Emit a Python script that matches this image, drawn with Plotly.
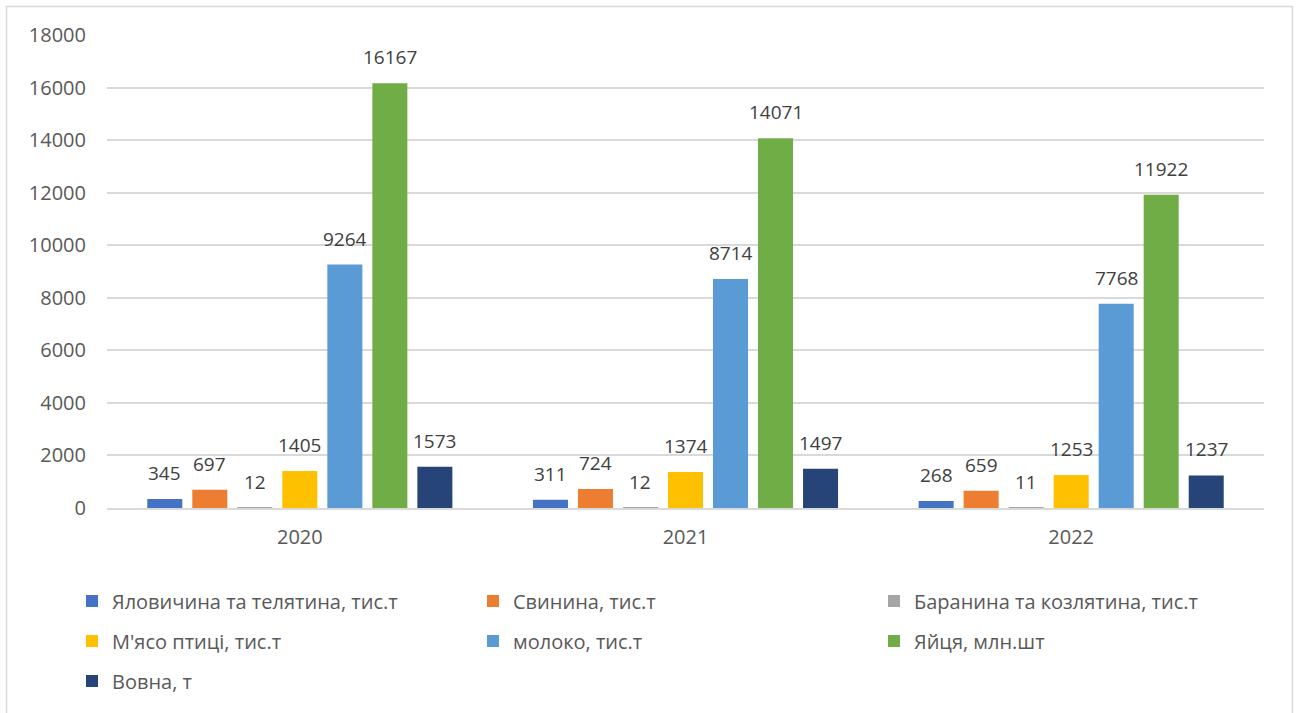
import plotly.graph_objects as go

# Livestock production by year
years = ["2020", "2021", "2022"]
series_names = [
    "Яловичина та телятина, тис.т",
    "Свинина, тис.т",
    "Баранина та козлятина, тис.т",
    "М'ясо птиці, тис.т",
    "молоко, тис.т",
    "Яйця, млн.шт",
    "Вовна, т",
]
beef = [345, 311, 268]
pork = [697, 724, 659]
lamb = [12, 12, 11]
poultry = [1405, 1374, 1253]
milk = [9264, 8714, 7768]
eggs = [16167, 14071, 11922]
wool = [1573, 1497, 1237]
y_ticks = [0, 2000, 4000, 6000, 8000, 10000, 12000, 14000, 16000, 18000]

values = [beef, pork, lamb, poultry, milk, eggs, wool]
colors = ["#4472C4", "#ED7D31", "#A5A5A5", "#FFC000", "#5B9BD5", "#70AD47", "#264478"]
legend_ids = ["legend", "legend", "legend", "legend2", "legend2", "legend2", "legend3"]

W, H = 1298, 713
ML, MR, MT, MB = 107, 34, 35, 205
BARGAP = 0.183
FONT = "Open Sans, sans-serif"

fig = go.Figure()
for name, vals, col, lg in zip(series_names, values, colors, legend_ids):
    fig.add_trace(go.Bar(
        name=name, x=years, y=vals,
        marker=dict(color=col, line=dict(width=0)),
        legend=lg,
    ))

# value labels above each bar, offset per series within the group
plot_w = W - ML - MR
slot = plot_w / len(years) * (1 - BARGAP) / len(series_names)
annotations = []
for i, vals in enumerate(values):
    for j, v in enumerate(vals):
        annotations.append(dict(
            x=j, y=v, xref="x", yref="y", text=str(v), showarrow=False,
            xshift=(i - (len(series_names) - 1) / 2) * slot, yshift=11,
            yanchor="bottom", xanchor="center",
            font=dict(family=FONT, size=19, color="#404040"),
        ))

plot_h = H - MT - MB
fig.add_shape(
    type="rect", xref="paper", yref="paper",
    x0=(6.5 - ML) / plot_w, x1=(W - 5.5 - ML) / plot_w,
    y0=(MT + plot_h - (H + 10)) / plot_h, y1=(MT + plot_h - 6.5) / plot_h,
    line=dict(color="#D9D9D9", width=1.5), fillcolor="rgba(0,0,0,0)", layer="below",
)

legend_common = dict(
    orientation="h", xanchor="left", yanchor="middle", x=(72 - ML) / plot_w,
    font=dict(family=FONT, size=20, color="#595959"),
    entrywidth=356, entrywidthmode="pixels", itemclick=False, bgcolor="rgba(0,0,0,0)",
    traceorder="normal",
)

def row_y(py):
    return (MT + plot_h - py) / plot_h

fig.update_layout(
    width=W, height=H,
    margin=dict(l=ML, r=MR, t=MT, b=MB),
    paper_bgcolor="white", plot_bgcolor="white",
    barmode="group", bargap=BARGAP, bargroupgap=0.222,
    font=dict(family=FONT, size=20, color="#595959"),
    annotations=annotations,
    legend=dict(legend_common, y=row_y(601)),
    legend2=dict(legend_common, y=row_y(641)),
    legend3=dict(legend_common, y=row_y(681)),
    xaxis=dict(
        type="category", range=[-0.5, len(years) - 0.5],
        showgrid=False, showline=True, linecolor="#D9D9D9", linewidth=1.5,
        ticks="", ticklabelstandoff=10,
        tickfont=dict(family=FONT, size=20, color="#595959"),
    ),
    yaxis=dict(
        range=[0, 18000], tickvals=y_ticks, ticktext=[str(t) for t in y_ticks],
        showgrid=True, gridcolor="#D9D9D9", gridwidth=1.5,
        zeroline=False, showline=False, ticks="", ticklabelstandoff=20,
        tickfont=dict(family=FONT, size=20, color="#595959"),
    ),
)

fig.write_html("out.html")
